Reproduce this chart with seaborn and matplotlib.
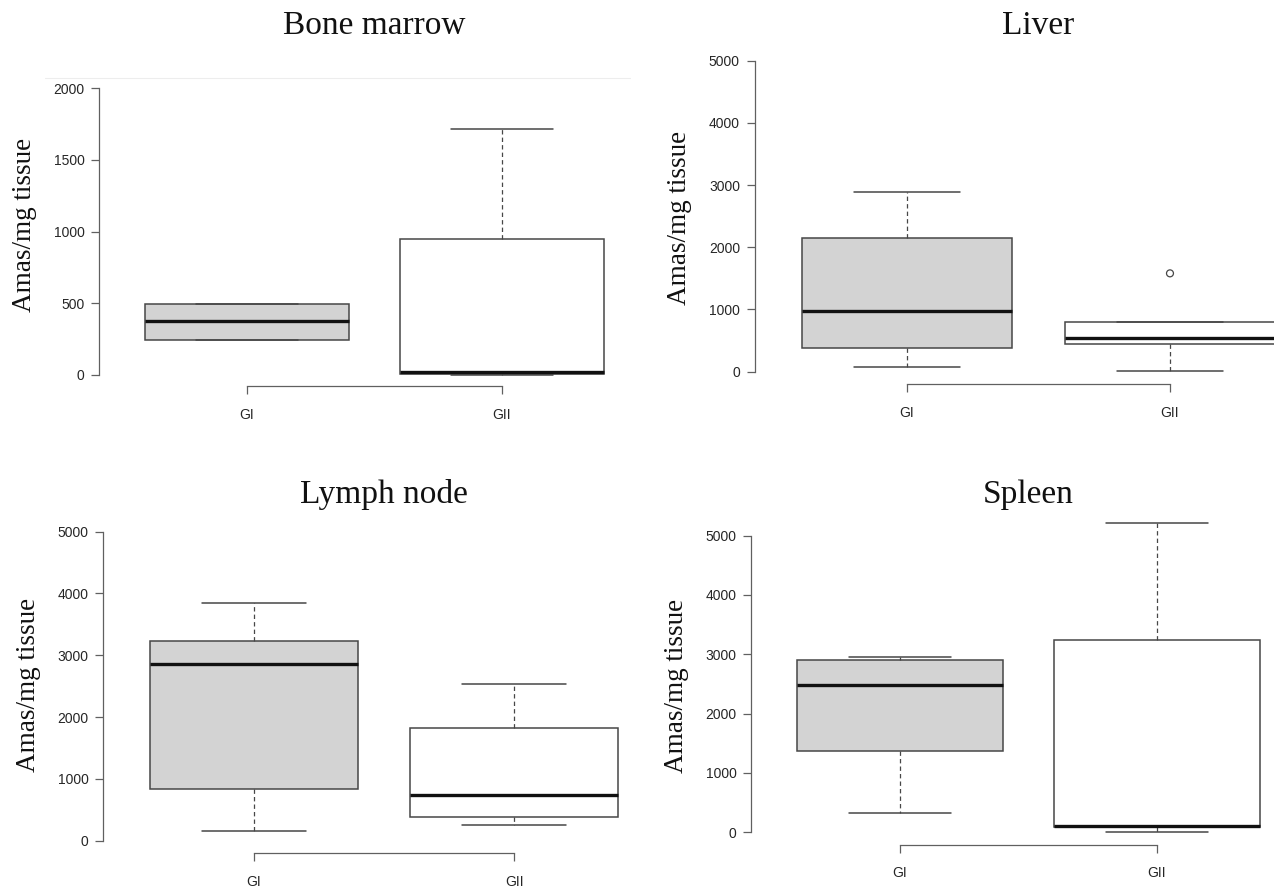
import numpy as np
import pandas as pd
import matplotlib
matplotlib.use("Agg")
import matplotlib.pyplot as plt
from matplotlib.lines import Line2D
import seaborn as sns

# ---------------- data ----------------
groups = ["GI", "GII"]
titles = ["Bone marrow", "Liver", "Lymph node", "Spleen"]
y_label = "Amas/mg tissue"

# five-number summaries: [lower whisker, Q1, median, Q3, upper whisker]
bone_marrow_GI = [245, 245, 371, 494, 494]
bone_marrow_GII = [0, 5, 18, 945, 1720]
liver_GI = [80, 386, 975, 2154, 2894]
liver_GII = [11, 439, 536, 804, 804]
liver_GII_outliers = [1581]
lymph_node_GI = [151, 831, 2864, 3236, 3840]
lymph_node_GII = [248, 383, 739, 1823, 2540]
spleen_GI = [320, 1371, 2489, 2899, 2955]
spleen_GII = [0, 95, 110, 3247, 5208]

bone_marrow_ticks = [0, 500, 1000, 1500, 2000]
organ_ticks = [0, 1000, 2000, 3000, 4000, 5000]

# ---------------- style ----------------
sns.set_style("white")
plt.rcParams["font.family"] = ["Liberation Sans", "DejaVu Sans"]
SERIF = ["Liberation Serif", "DejaVu Serif"]
EDGE = "#474747"
AXIS = "#606060"
FILLS = {"GI": "#D3D3D3", "GII": "#FFFFFF"}

W, H = 1274, 892
fig = plt.figure(figsize=(W / 100, H / 100), dpi=100)

# faint separator line visible at the top of the first panel
fig.add_artist(Line2D([45 / W, 630 / W], [1 - 78 / H, 1 - 78 / H],
                      color="#ededed", linewidth=0.8))

# layout in pixels: (left, top, right, bottom), ylim, title baseline y, ylabel centre y
panels = [
    dict(title=titles[0], gi=bone_marrow_GI, gii=bone_marrow_GII, out=[],
         ticks=bone_marrow_ticks, box=(99, 77, 650, 386), ylim=(-80, 2080),
         ty=34, ly=225),
    dict(title=titles[1], gi=liver_GI, gii=liver_GII, out=liver_GII_outliers,
         ticks=organ_ticks, box=(754.5, 48.3, 1322.5, 384.1), ylim=(-200, 5200),
         ty=34, ly=218),
    dict(title=titles[2], gi=lymph_node_GI, gii=lymph_node_GII, out=[],
         ticks=organ_ticks, box=(103, 519.3, 665, 853), ylim=(-200, 5200),
         ty=503, ly=685),
    dict(title=titles[3], gi=spleen_GI, gii=spleen_GII, out=[],
         ticks=organ_ticks, box=(751, 511, 1306, 844.6), ylim=(-208, 5416),
         ty=503, ly=686),
]

for p in panels:
    l, t, r, b = p["box"]
    ax = fig.add_axes([l / W, 1 - b / H, (r - l) / W, (b - t) / H])
    ax.set_facecolor("none")

    df = pd.DataFrame({
        "group": [groups[0]] * len(p["gi"]) + [groups[1]] * len(p["gii"]),
        "value": list(p["gi"]) + list(p["gii"]),
    })
    sns.boxplot(
        data=df, x="group", y="value", hue="group", order=groups,
        hue_order=groups, palette=FILLS, saturation=1, width=0.8,
        whis=(0, 100), showfliers=False, linecolor=EDGE, linewidth=1.1,
        legend=False, ax=ax,
        medianprops=dict(color="#111111", linewidth=2.4, solid_capstyle="butt"),
        whiskerprops=dict(color=EDGE, linestyle=(0, (3.5, 2.5)), linewidth=0.9),
        capprops=dict(color=EDGE, linewidth=1.1),
    )
    if p["out"]:
        odf = pd.DataFrame({"group": [groups[1]] * len(p["out"]), "value": p["out"]})
        sns.stripplot(data=odf, x="group", y="value", order=groups, jitter=False,
                      size=5, marker="o", color="white", edgecolor=EDGE,
                      linewidth=0.9, ax=ax)
        coll = ax.collections[-1]
        coll.set_facecolor("none")
        coll.set_edgecolor(EDGE)
        coll.set_linewidth(0.9)

    ax.set_xlim(-0.58, 1.58)
    ax.set_ylim(*p["ylim"])
    ax.set_yticks(p["ticks"])
    ax.set_xticks([0, 1])
    ax.set_xticklabels(groups)
    ax.set_xlabel("")
    ax.set_ylabel(y_label, family=SERIF, fontsize=19.5, color="#111111")
    ax.yaxis.set_label_coords(-62 / (r - l), 1 - (p["ly"] - t) / (b - t))

    for s in ["top", "right"]:
        ax.spines[s].set_visible(False)
    for s in ["left", "bottom"]:
        ax.spines[s].set_color(AXIS)
        ax.spines[s].set_linewidth(0.9)
    ax.spines["left"].set_bounds(p["ticks"][0], p["ticks"][-1])
    ax.spines["bottom"].set_bounds(0, 1)
    ax.tick_params(axis="both", direction="out", length=5.5, width=0.9,
                   color=AXIS, labelsize=10, labelcolor="#262626")
    ax.tick_params(axis="y", pad=5, left=True)
    ax.tick_params(axis="x", pad=10, bottom=True)

    fig.text(((l + r) / 2) / W, 1 - p["ty"] / H, p["title"], ha="center",
             va="baseline", family=SERIF, fontsize=24, color="#111111")

fig.savefig("out.png", dpi=100)
